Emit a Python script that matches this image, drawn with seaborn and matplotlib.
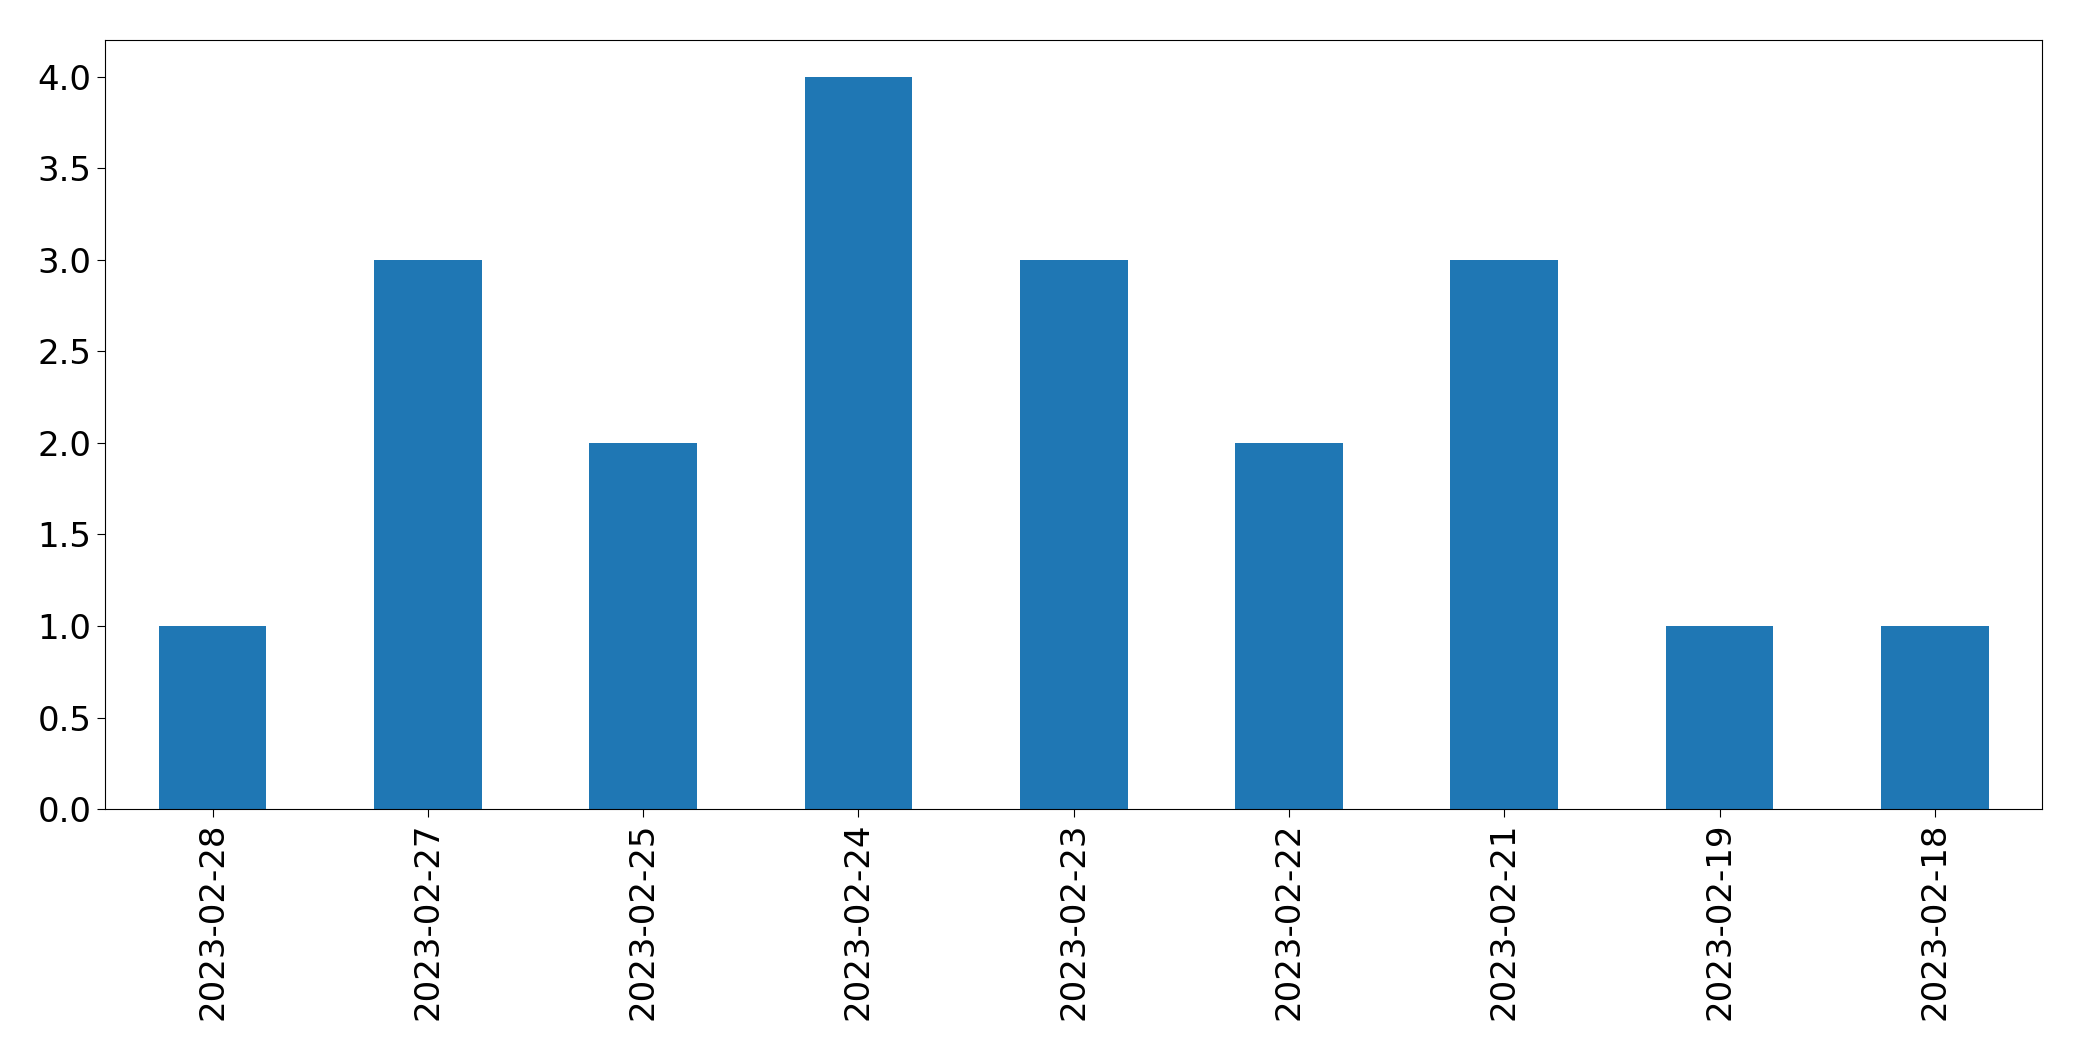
import matplotlib
matplotlib.use("Agg")
import matplotlib.pyplot as plt
import seaborn as sns
import pandas as pd

# counts per day
dates = ['2023-02-28', '2023-02-27', '2023-02-25', '2023-02-24', '2023-02-23',
         '2023-02-22', '2023-02-21', '2023-02-19', '2023-02-18']
counts = [1, 3, 2, 4, 3, 2, 3, 1, 1]

df = pd.DataFrame({'date': dates, 'count': counts})

fig, ax = plt.subplots(figsize=(20.82, 10.61), dpi=100)
fig.subplots_adjust(left=0.0504, right=0.981, top=0.962, bottom=0.2375)

sns.barplot(data=df, x='date', y='count', order=dates, color='#1f77b4',
            saturation=1, width=0.5, ax=ax)

ax.set_xlim(-0.5, len(dates) - 0.5)
ax.set_ylim(0, 4.2)
ax.set_xlabel('')
ax.set_ylabel('')
for sp in ax.spines.values():
    sp.set_color('black')
ax.tick_params(axis='both', labelsize=24.5, length=6)
plt.xticks(rotation=90)

fig.savefig('out.png', dpi=100)
